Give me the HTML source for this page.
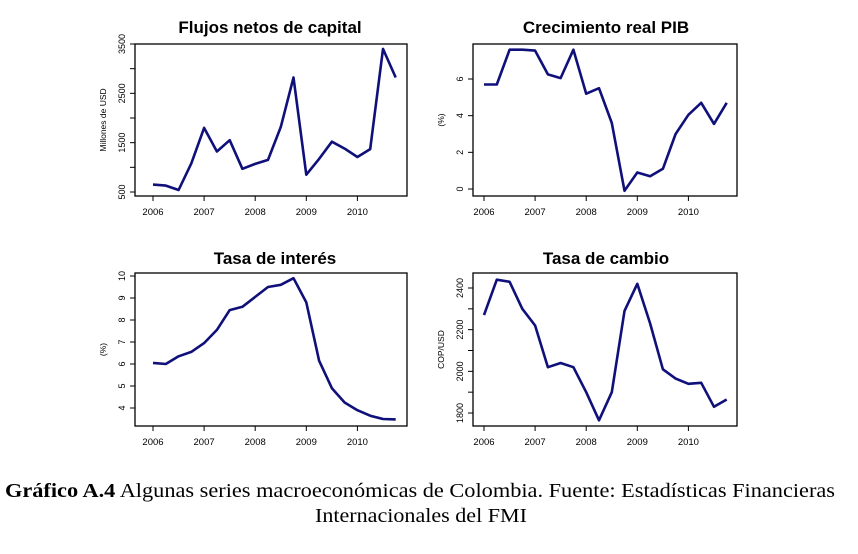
<!DOCTYPE html>
<html><head><meta charset="utf-8"><style>
body{margin:0;background:#fff;width:858px;height:549px;overflow:hidden}
svg text{font-family:"Liberation Sans",sans-serif}
</style></head><body>
<svg id="s" width="858" height="549" xmlns="http://www.w3.org/2000/svg">
<text x="420" y="497" text-anchor="middle" font-size="20" textLength="830" lengthAdjust="spacingAndGlyphs" style="font-family:'Liberation Serif',serif"><tspan font-weight="bold">Gráfico A.4</tspan> Algunas series macroeconómicas de Colombia. Fuente: Estadísticas Financieras</text>
<text x="421" y="522" text-anchor="middle" font-size="20" textLength="212" lengthAdjust="spacingAndGlyphs" style="font-family:'Liberation Serif',serif">Internacionales del FMI</text>
</svg>
<script>
var s=document.getElementById('s'),NS='http://www.w3.org/2000/svg';
function el(t,a,txt){var e=document.createElementNS(NS,t);for(var k in a)e.setAttribute(k,a[k]);if(txt!=null)e.textContent=txt;s.appendChild(e);return e;}
var P=[
{L:135,R:407,T:44,B:196,x0:153,title:"Flujos netos de capital",tx:270,ty:33,yl:"Millones de USD",v0:500,p0:192,v1:3500,p1:44,ticks:[500,1500,2500,3500],minor:[1000,2000,3000],
d:[650,630,540,1080,1800,1320,1550,970,1070,1150,1820,2820,850,1170,1520,1380,1210,1370,3400,2820]},
{L:473,R:737,T:44,B:196,x0:484,title:"Crecimiento real PIB",tx:606,ty:33,yl:"(%)",v0:0,p0:189,v1:6,p1:79,ticks:[0,2,4,6],minor:[],
d:[5.7,5.7,7.6,7.6,7.55,6.25,6.05,7.6,5.2,5.5,3.6,-0.1,0.9,0.7,1.1,3.0,4.05,4.7,3.55,4.7]},
{L:135,R:407,T:273,B:426,x0:153,title:"Tasa de interés",tx:275,ty:264,yl:"(%)",v0:4,p0:408,v1:10,p1:276,ticks:[4,5,6,7,8,9,10],minor:[],
d:[6.05,6.0,6.35,6.55,6.95,7.55,8.45,8.6,9.05,9.5,9.6,9.9,8.8,6.15,4.9,4.25,3.9,3.65,3.5,3.48]},
{L:473,R:737,T:273,B:426,x0:484,title:"Tasa de cambio",tx:606,ty:264,yl:"COP/USD",v0:1800,p0:413,v1:2400,p1:288,ticks:[1800,2000,2200,2400],minor:[1900,2100,2300],
d:[2270,2440,2430,2300,2220,2020,2040,2020,1900,1765,1900,2290,2420,2230,2010,1965,1940,1945,1830,1865]}];
P.forEach(function(p){
 var sx=51.1;function Y(v){return p.p0+(v-p.v0)*(p.p1-p.p0)/(p.v1-p.v0);}
 el('text',{x:p.tx,y:p.ty,'text-anchor':'middle','font-size':17,'font-weight':'bold'},p.title);
 el('rect',{x:p.L,y:p.T,width:p.R-p.L,height:p.B-p.T,fill:'none',stroke:'#000','stroke-width':1.3});
 for(var i=0;i<5;i++){var x=p.x0+i*sx;el('line',{x1:x,x2:x,y1:p.B,y2:p.B+5,stroke:'#000'});el('text',{x:x,y:p.B+19,'text-anchor':'middle','font-size':9.5},2006+i);}
 el('line',{x1:p.x0,x2:p.x0+4*sx,y1:p.B,y2:p.B,stroke:'#000'});
 p.ticks.concat(p.minor).forEach(function(v){var y=Y(v);el('line',{x1:p.L-5,x2:p.L,y1:y,y2:y,stroke:'#000'});});
 p.ticks.forEach(function(v){var y=Y(v);el('text',{x:p.L-10,y:y,'text-anchor':'middle','font-size':9,transform:'rotate(-90 '+(p.L-10)+' '+y+')'},v);});
 var cy=(p.T+p.B)/2,lx=p.L-29;el('text',{x:lx,y:cy,'text-anchor':'middle','font-size':8.5,transform:'rotate(-90 '+lx+' '+cy+')'},p.yl);
 var pts=p.d.map(function(v,i){return (p.x0+i*sx/4).toFixed(1)+','+Y(v).toFixed(1);}).join(' ');
 el('polyline',{points:pts,fill:'none',stroke:'#10107a','stroke-width':2.6,'stroke-linejoin':'round'});
});
</script>
</body></html>
